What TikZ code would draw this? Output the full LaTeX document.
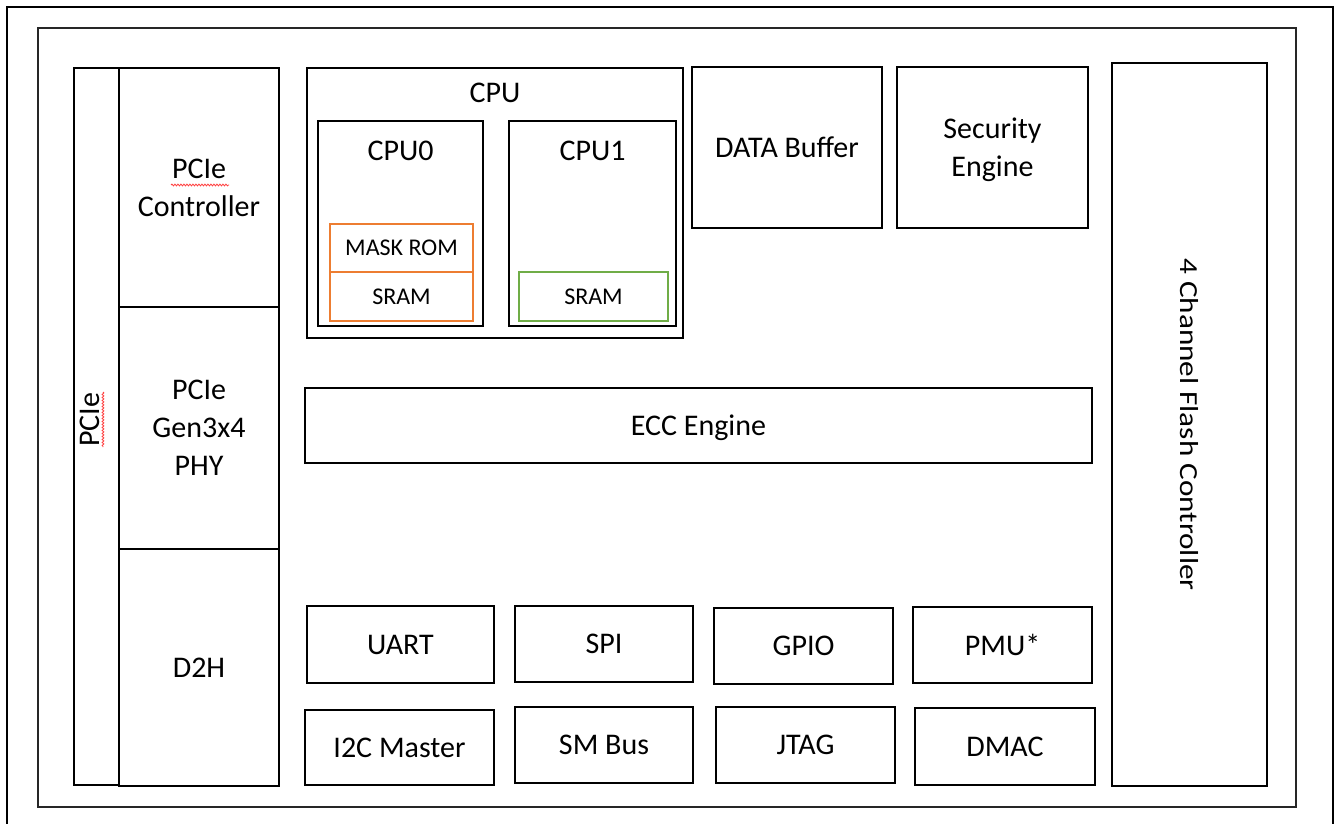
\documentclass[tikz,border=0pt]{standalone}
\usepackage{fontspec}
\setmainfont{Carlito}
\usetikzlibrary{decorations.pathmorphing}
\definecolor{orgc}{HTML}{ED7D31}
\definecolor{grnc}{HTML}{70AD47}
\newcommand{\blk}[7]{\node[#6, minimum width={(#4-#2)*1pt}, minimum height={(#5-#3)*1pt}] (#1) at ({(#2+#4)/2},{(#3+#5)/2}) {#7};}
\tikzset{
  box/.style={draw=black, line width=2.8pt, inner sep=0pt, align=center, text depth=0pt, font=\fontsize{30}{38}\selectfont},
  obox/.style={draw=orgc, line width=2pt, inner sep=0pt, align=center, font=\fontsize{24}{29}\selectfont},
  gbox/.style={draw=grnc, line width=2pt, inner sep=0pt, align=center, font=\fontsize{24}{29}\selectfont},
  lbl/.style={inner sep=0pt, font=\fontsize{30}{37}\selectfont},
  squig/.style={draw=red!75, line width=0.8pt, decorate, decoration={snake, amplitude=0.9pt, segment length=3pt}},
  frame/.style={draw=black, line width=2pt}
}
\begin{document}
\begin{tikzpicture}[x=1pt,y=-1pt]
\useasboundingbox (0,0) rectangle (1336,824);
\fill[white] (0,0) rectangle (1336,824);
% frames
\draw[frame] (7,830) -- (7,7) -- (1333,7) -- (1333,830);
\draw[frame, line width=1.8pt, black!85] (38,28) rectangle (1296,807);
% PCIe side
\blk{pcie}{74}{68}{119}{785}{box}{}
\node[lbl, rotate=90, anchor=base] (pcielbl) at (99,420) {PCIe};
\draw[squig] (103,392) -- (103,447);
\blk{pcictl}{119}{68}{279}{307}{box}{PCIe\\Controller}
\draw[squig] (171,185) -- (229,185);
\blk{phy}{119}{307}{279}{549}{box}{PCIe\\Gen3x4\\PHY}
\blk{d2h}{119}{549}{279}{786}{box}{D2H}
% CPU
\blk{cpu}{307}{68}{683}{338}{box}{}
\node[lbl] (cpulbl) at (495,93) {CPU};
\blk{cpu0}{318}{121}{483}{326}{box}{}
\node[lbl] (cpu0lbl) at (400.5,151) {CPU0};
\blk{maskrom}{330}{224}{473}{272}{obox}{MASK ROM}
\blk{sram0}{330}{272}{473}{321}{obox}{SRAM}
\blk{cpu1}{509}{121}{676}{326}{box}{}
\node[lbl] (cpu1lbl) at (592.5,151) {CPU1};
\blk{sram1}{519}{272}{668}{321}{gbox}{SRAM}
% top right
\blk{databuf}{692}{67}{882}{228}{box}{DATA Buffer}
\blk{sec}{897}{67}{1088}{228}{box}{Security\\Engine}
\blk{flash}{1112}{63}{1267}{786}{box}{}
\node[inner sep=0pt, rotate=-90] (flashlbl) at (flash.center) {\scalebox{1.2}[1]{\fontsize{26}{30}\selectfont 4 Channel Flash Controller}};
% ECC
\blk{ecc}{305}{388}{1092}{463}{box}{ECC Engine}
% peripherals
\blk{uart}{307}{606}{494}{683}{box}{UART}
\blk{spi}{515}{606}{693}{682}{box}{SPI}
\blk{gpio}{714}{608}{893}{684}{box}{GPIO}
\blk{pmu}{913}{607}{1092}{683}{box}{PMU*}
\blk{i2c}{305}{710}{494}{785}{box}{I2C Master}
\blk{smbus}{515}{707}{693}{783}{box}{SM Bus}
\blk{jtag}{716}{707}{895}{783}{box}{JTAG}
\blk{dmac}{915}{708}{1095}{785}{box}{DMAC}
\end{tikzpicture}
\end{document}
